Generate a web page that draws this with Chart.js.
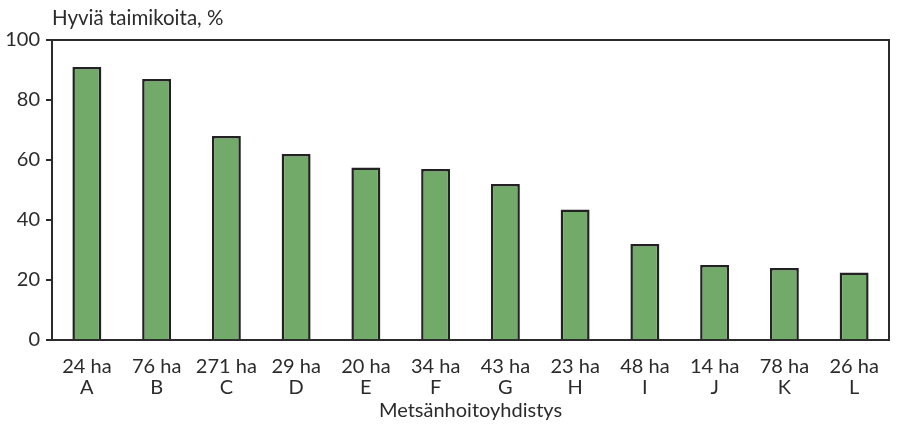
<!DOCTYPE html>
<html>
<head>
<meta charset="utf-8">
<script src="https://cdn.jsdelivr.net/npm/chart.js@4"></script>
<style>
  html, body { margin: 0; padding: 0; background: #ffffff; }
  #wrap { width: 897px; height: 428px; position: relative; }
</style>
</head>
<body>
<div id="wrap"><canvas id="c" width="897" height="428"></canvas></div>
<script>
// Areas (ha) and association codes shown under each bar
const areas = ["24 ha", "76 ha", "271 ha", "29 ha", "20 ha", "34 ha", "43 ha", "23 ha", "48 ha", "14 ha", "78 ha", "26 ha"];
const associations = ["A", "B", "C", "D", "E", "F", "G", "H", "I", "J", "K", "L"];
// Share of good seedling stands, %
const goodStands = [91, 87, 68, 62, 57.5, 57, 52, 43.5, 32, 25, 24, 22.5];
const yTicks = [0, 20, 40, 60, 80, 100];

const yTitle = "Hyviä taimikoita, %";
const xTitle = "Metsänhoitoyhdistys";

const FONT = "Lato, 'DejaVu Sans', sans-serif";
const INK = "#2b2b2b";

const labels = areas.map((a, i) => [a, associations[i]]);

// Frame around the plot area plus the y-axis caption above it
const framePlugin = {
  id: "frame",
  afterDraw(chart) {
    const { ctx, chartArea: a } = chart;
    ctx.save();
    ctx.strokeStyle = INK;
    ctx.lineWidth = 2;
    ctx.strokeRect(a.left, a.top, a.right - a.left, a.bottom - a.top);
    ctx.fillStyle = INK;
    ctx.font = "20.5px " + FONT;
    ctx.textAlign = "left";
    ctx.textBaseline = "middle";
    ctx.fillText(yTitle, a.left, 18);
    ctx.restore();
  }
};

new Chart(document.getElementById("c"), {
  type: "bar",
  data: {
    labels: labels,
    datasets: [{
      data: goodStands,
      backgroundColor: "#72aa69",
      borderColor: "#222222",
      borderWidth: 2.5,
      categoryPercentage: 1,
      barPercentage: 0.415
    }]
  },
  options: {
    responsive: false,
    animation: false,
    events: [],
    layout: { padding: { top: 40, right: 8, left: 0, bottom: 0 } },
    plugins: {
      legend: { display: false },
      tooltip: { enabled: false }
    },
    scales: {
      x: {
        grid: { display: false },
        border: { color: INK, width: 2 },
        ticks: {
          color: INK,
          font: { family: FONT, size: 20, lineHeight: 1.05 },
          padding: 8,
          maxRotation: 0,
          autoSkip: false
        },
        title: {
          display: true,
          text: xTitle,
          color: INK,
          font: { family: FONT, size: 20 },
          padding: { top: 0, bottom: 5 }
        },
        afterFit(scale) { scale.height = 88; }
      },
      y: {
        min: 0,
        max: 100,
        afterBuildTicks(scale) { scale.ticks = yTicks.map(v => ({ value: v })); },
        grid: {
          drawOnChartArea: false,
          drawTicks: true,
          tickLength: 6,
          color: INK,
          lineWidth: 2
        },
        border: { color: INK, width: 2 },
        ticks: {
          color: INK,
          font: { family: FONT, size: 20 },
          padding: 6
        },
        afterFit(scale) { scale.width = 52; }
      }
    }
  },
  plugins: [framePlugin]
});
</script>
</body>
</html>
